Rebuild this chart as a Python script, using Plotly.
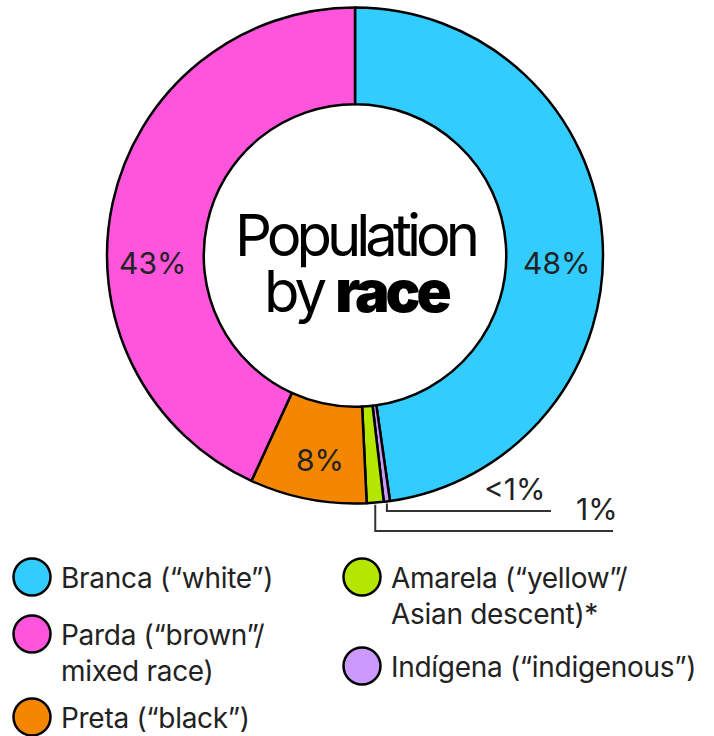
import math
import plotly.graph_objects as go

# --- data -------------------------------------------------------------
categories = ["Branca", "Indígena", "Amarela", "Preta", "Parda"]
shares = [47.7, 0.4, 1.1, 7.6, 43.1]          # % of population
colors = ["#33CCFF", "#CC99FF", "#B4E600", "#F58700", "#FF55DD"]
legend_labels = {
    "Branca": "Branca (“white”)",
    "Parda": "Parda (“brown”/<br>mixed race)",
    "Preta": "Preta (“black”)",
    "Amarela": "Amarela (“yellow”/<br>Asian descent)*",
    "Indígena": "Indígena (“indigenous”)",
}

# --- canvas geometry (pixels) ------------------------------------------
W, H = 714, 736
CX, CY, R = 355, 255.5, 248
HOLE = 0.61
FONT = "Inter, Roboto, sans-serif"
INK = "#222222"


def px(x):
    return x / W


def py(y):
    return 1 - y / H


def pct_text(v):
    return "<1%" if v < 1 else f"{round(v)}%"


fig = go.Figure(
    go.Pie(
        labels=categories,
        values=shares,
        marker=dict(colors=colors, line=dict(color="#000000", width=2.5)),
        hole=HOLE,
        sort=False,
        direction="clockwise",
        rotation=0,
        textinfo="none",
        hoverinfo="label+percent",
        showlegend=False,
        domain=dict(x=[px(CX - R), px(CX + R)], y=[py(CY + R), py(CY - R)]),
    )
)

annotations = []
shapes = []

# centre title (tight tracking, heavy "race")
annotations.append(dict(
    x=px(CX), y=py(235), xref="paper", yref="paper", showarrow=False,
    text='<span style="letter-spacing:-5px">Population</span>',
    font=dict(family=FONT, size=58, color="#000000"),
    xanchor="center", yanchor="middle",
))
annotations.append(dict(
    x=px(CX + 2), y=py(291), xref="paper", yref="paper", showarrow=False,
    text='<span style="letter-spacing:-4px">by </span>'
         '<span style="letter-spacing:-4px;font-weight:900">race</span>',
    font=dict(family=FONT, size=58, color="#000000"),
    xanchor="center", yanchor="middle",
))

# in-ring percentage labels
inside_pos = {"Branca": (556, 263), "Parda": (152, 263), "Preta": (320, 460)}
for cat, v in zip(categories, shares):
    if cat in inside_pos:
        x, y = inside_pos[cat]
        annotations.append(dict(
            x=px(x), y=py(y), xref="paper", yref="paper", showarrow=False,
            text=pct_text(v), font=dict(family=FONT, size=30, color=INK),
            xanchor="center", yanchor="middle",
        ))

# call-outs for the two thin slices: elbow line from the rim, label on top
total = sum(shares)
# (line y, line end x, label right edge x)
callouts = {"Indígena": (511, 551, 548), "Amarela": (531, 613, 620)}
cum = 0.0
for cat, v in zip(categories, shares):
    mid = (cum + v / 2) / total * 2 * math.pi
    cum += v
    if cat not in callouts:
        continue
    ly, lx, tx = callouts[cat]
    sx = CX + R * math.sin(mid)
    sy = CY - R * math.cos(mid)
    shapes.append(dict(
        type="path", xref="paper", yref="paper",
        path=f"M {px(sx)} {py(sy + 2)} L {px(sx)} {py(ly)} L {px(lx)} {py(ly)}",
        line=dict(color="#333333", width=2),
    ))
    annotations.append(dict(
        x=px(tx), y=py(ly - 2), xref="paper", yref="paper", showarrow=False,
        text=pct_text(v), font=dict(family=FONT, size=30, color=INK),
        xanchor="right", yanchor="bottom",
    ))

# legend: outlined dots with labels, two columns
legend_pos = {
    "Branca": (32, 577), "Parda": (32, 634), "Preta": (32, 717),
    "Amarela": (362, 577), "Indígena": (362, 666),
}
DOT_R = 18.5
for cat, col in zip(categories, colors):
    cx, cy = legend_pos[cat]
    shapes.append(dict(
        type="circle", xref="paper", yref="paper",
        x0=px(cx - DOT_R), x1=px(cx + DOT_R), y0=py(cy + DOT_R), y1=py(cy - DOT_R),
        fillcolor=col, line=dict(color="#000000", width=2.5),
    ))
    annotations.append(dict(
        x=px(cx + 27), y=py(cy - 18), xref="paper", yref="paper", showarrow=False,
        text=f'<span style="letter-spacing:-0.3px">{legend_labels[cat]}</span>'
        if "<br>" not in legend_labels[cat] else
        "<br>".join(f'<span style="letter-spacing:-0.3px">{p}</span>'
                    for p in legend_labels[cat].split("<br>")),
        align="left",
        font=dict(family=FONT, size=28, color=INK),
        xanchor="left", yanchor="top",
    ))

fig.update_layout(
    width=W, height=H,
    margin=dict(l=0, r=0, t=0, b=0),
    paper_bgcolor="#FFFFFF", plot_bgcolor="#FFFFFF",
    annotations=annotations, shapes=shapes,
)

fig.write_html("out.html")
